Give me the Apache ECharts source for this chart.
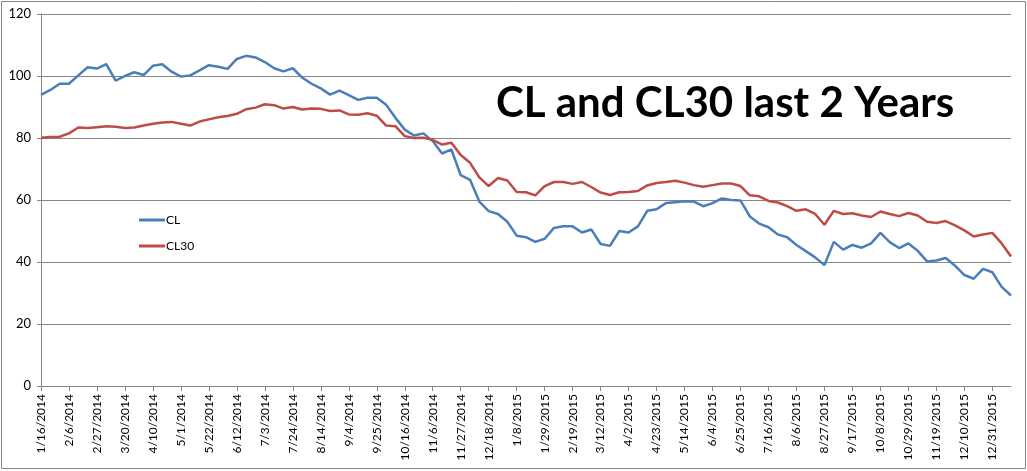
<!DOCTYPE html>
<html>
<head>
<meta charset="utf-8">
<script src="https://cdn.jsdelivr.net/npm/echarts@6/dist/echarts.min.js"></script>
<style>
  html, body { margin: 0; padding: 0; background: #fff; }
  #chart { width: 1027px; height: 471px; }
</style>
</head>
<body>
<div id="chart"></div>
<script>
// weekly samples
const dates = [
  "1/16/2014", "1/23/2014", "1/30/2014", "2/6/2014", "2/13/2014", "2/20/2014", "2/27/2014",
  "3/6/2014", "3/13/2014", "3/20/2014", "3/27/2014", "4/3/2014", "4/10/2014", "4/17/2014",
  "4/24/2014", "5/1/2014", "5/8/2014", "5/15/2014", "5/22/2014", "5/29/2014", "6/5/2014",
  "6/12/2014", "6/19/2014", "6/26/2014", "7/3/2014", "7/10/2014", "7/17/2014", "7/24/2014",
  "7/31/2014", "8/7/2014", "8/14/2014", "8/21/2014", "8/28/2014", "9/4/2014", "9/11/2014",
  "9/18/2014", "9/25/2014", "10/2/2014", "10/9/2014", "10/16/2014", "10/23/2014", "10/30/2014",
  "11/6/2014", "11/13/2014", "11/20/2014", "11/27/2014", "12/4/2014", "12/11/2014", "12/18/2014",
  "12/25/2014", "1/1/2015", "1/8/2015", "1/15/2015", "1/22/2015", "1/29/2015", "2/5/2015",
  "2/12/2015", "2/19/2015", "2/26/2015", "3/5/2015", "3/12/2015", "3/19/2015", "3/26/2015",
  "4/2/2015", "4/9/2015", "4/16/2015", "4/23/2015", "4/30/2015", "5/7/2015", "5/14/2015",
  "5/21/2015", "5/28/2015", "6/4/2015", "6/11/2015", "6/18/2015", "6/25/2015", "7/2/2015",
  "7/9/2015", "7/16/2015", "7/23/2015", "7/30/2015", "8/6/2015", "8/13/2015", "8/20/2015",
  "8/27/2015", "9/3/2015", "9/10/2015", "9/17/2015", "9/24/2015", "10/1/2015", "10/8/2015",
  "10/15/2015", "10/22/2015", "10/29/2015", "11/5/2015", "11/12/2015", "11/19/2015", "11/26/2015",
  "12/3/2015", "12/10/2015", "12/17/2015", "12/24/2015", "12/31/2015", "1/7/2016", "1/14/2016"
];

const cl = [
  93.9, 95.5, 97.5, 97.5, 100.2, 102.8, 102.4, 103.8, 98.5, 100, 101.2, 100.3, 103.3, 103.8,
  101.4, 99.8, 100.2, 101.8, 103.5, 103, 102.3, 105.5, 106.5, 106, 104.5, 102.5, 101.5, 102.5,
  99.5, 97.5, 96, 94, 95.3, 93.8, 92.3, 93, 93, 90.7, 86.5, 82.7, 80.8, 81.5,
  79, 75, 76.3, 68, 66.5, 59.5, 56.4, 55.5, 53, 48.5, 48, 46.5, 47.5, 51,
  51.5, 51.5, 49.5, 50.5, 45.8, 45.2, 50, 49.5, 51.5, 56.5, 57, 59, 59.3, 59.6,
  59.5, 58, 59, 60.5, 60, 59.8, 54.7, 52.4, 51.2, 48.9, 48, 45.5, 43.5, 41.5,
  39, 46.5, 44, 45.5, 44.6, 46, 49.4, 46.4, 44.5, 46, 43.6, 40.2, 40.5, 41.3,
  38.8, 35.8, 34.6, 37.8, 36.7, 32, 29.2
];

const cl30 = [
  80.1, 80.3, 80.4, 81.5, 83.4, 83.2, 83.5, 83.8, 83.6, 83.2, 83.4, 84.0, 84.6, 85.0,
  85.2, 84.6, 84.0, 85.3, 86.0, 86.7, 87.1, 87.8, 89.3, 89.8, 90.9, 90.6, 89.5, 90.0,
  89.2, 89.5, 89.4, 88.7, 88.9, 87.6, 87.5, 88.0, 87.2, 84, 83.8, 80.6, 80, 80.1,
  79.4, 77.9, 78.5, 74.5, 72, 67.3, 64.5, 67.1, 66.3, 62.6, 62.5, 61.5, 64.5, 65.8,
  65.8, 65.2, 65.8, 64.2, 62.4, 61.6, 62.5, 62.6, 62.9, 64.7, 65.5, 65.8, 66.2, 65.6,
  64.8, 64.3, 64.8, 65.3, 65.3, 64.5, 61.5, 61.2, 59.7, 59.2, 58, 56.5, 57, 55.5,
  52, 56.5, 55.5, 55.7, 55, 54.5, 56.3, 55.5, 54.8, 55.8, 55, 53, 52.6, 53.2,
  51.8, 50.2, 48.2, 48.9, 49.4, 46, 41.8
];

const chart = echarts.init(document.getElementById("chart"));

const font = "Lato, 'Open Sans', sans-serif";

chart.setOption({
  animation: false,
  backgroundColor: "#fff",
  textStyle: { fontFamily: font },
  title: {
    text: "CL and CL30 last 2 Years",
    left: 491,
    top: 77,
    textStyle: { fontFamily: font, fontWeight: "bold", fontSize: 42, color: "#000" }
  },
  legend: {
    orient: "vertical",
    left: 134,
    top: 209,
    itemGap: 14,
    itemWidth: 26,
    itemHeight: 3,
    icon: "rect",
    textStyle: { fontFamily: font, fontSize: 12, color: "#000", padding: [0, 0, 0, -4] },
    data: ["CL", "CL30"]
  },
  grid: { left: 41, right: 16, top: 14, bottom: 85 },
  xAxis: {
    type: "category",
    data: dates,
    boundaryGap: false,
    axisLine: { lineStyle: { color: "#868686" } },
    axisTick: { interval: 2, length: 5, lineStyle: { color: "#868686" } },
    axisLabel: { interval: 2, rotate: 90, fontSize: 12, color: "#000", fontFamily: font, margin: 8 }
  },
  yAxis: {
    type: "value",
    min: 0,
    max: 120,
    interval: 20,
    axisLine: { show: true, lineStyle: { color: "#868686" } },
    axisTick: { show: true, length: 4, lineStyle: { color: "#868686" } },
    axisLabel: { fontSize: 13, color: "#000", fontFamily: font, margin: 10 },
    splitLine: { lineStyle: { color: "#868686", width: 1 } }
  },
  series: [
    {
      name: "CL",
      type: "line",
      data: cl,
      showSymbol: false,
      itemStyle: { color: "#4A7EBB" },
      lineStyle: { color: "#4A7EBB", width: 2.5 }
    },
    {
      name: "CL30",
      type: "line",
      data: cl30,
      showSymbol: false,
      itemStyle: { color: "#BE4B48" },
      lineStyle: { color: "#BE4B48", width: 2.5 }
    }
  ],
  graphic: [
    {
      type: "rect",
      silent: true,
      shape: { x: 1.5, y: 1.5, width: 1024, height: 467 },
      style: { fill: "none", stroke: "#868686", lineWidth: 1 }
    }
  ]
});
</script>
</body>
</html>
